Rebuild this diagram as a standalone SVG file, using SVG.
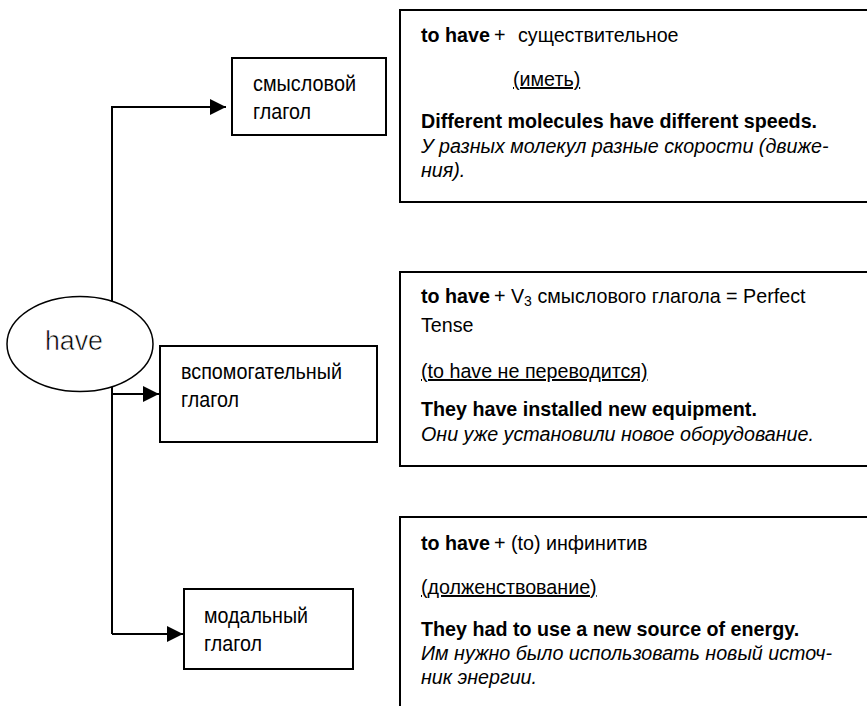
<svg xmlns="http://www.w3.org/2000/svg" width="867" height="706" viewBox="0 0 867 706">
<defs>
<style>
text{font-family:"Liberation Sans",Arial,sans-serif;fill:#000}
.t{font-size:19.7px}
.b{font-weight:bold}
.i{font-style:italic}
.u{text-decoration:underline}
.n{font-size:22px}
.box{fill:#fff;stroke:#000;stroke-width:2}
.line{fill:none;stroke:#000;stroke-width:2}
</style>
<marker id="ah" viewBox="0 0 16 16" refX="16" refY="8" markerWidth="16" markerHeight="16" markerUnits="userSpaceOnUse" orient="auto">
<path d="M0,0 L16,8 L0,16 Z" fill="#000"/>
</marker>
</defs>
<rect width="867" height="706" fill="#fff"/>
<g id="connectors">
<path class="line" d="M112,634 V107 H226" marker-end="url(#ah)"/>
<path class="line" d="M112,394 H159" marker-end="url(#ah)"/>
<path class="line" d="M112,634 H183" marker-end="url(#ah)"/>
</g>
<g id="have">
<ellipse cx="80" cy="344" rx="73" ry="47.5" fill="#fff" stroke="#000" stroke-width="1.5"/>
<text x="45" y="350" font-family="'Liberation Sans',sans-serif" font-size="27" textLength="58" lengthAdjust="spacingAndGlyphs" stroke="#fff" stroke-width="0.6">have</text>
</g>
<g id="smyslovoy">
<rect class="box" x="232" y="58" width="154" height="77"/>
<text class="n" x="253" y="91" textLength="103" lengthAdjust="spacingAndGlyphs">смысловой</text>
<text class="n" x="253" y="119" textLength="58" lengthAdjust="spacingAndGlyphs">глагол</text>
</g>
<g id="vspomogatelny">
<rect class="box" x="160" y="346" width="217" height="96"/>
<text class="n" x="181" y="379" textLength="161" lengthAdjust="spacingAndGlyphs">вспомогательный</text>
<text class="n" x="181" y="407" textLength="58" lengthAdjust="spacingAndGlyphs">глагол</text>
</g>
<g id="modalny">
<rect class="box" x="184" y="589" width="169" height="80"/>
<text class="n" x="204" y="623" textLength="104" lengthAdjust="spacingAndGlyphs">модальный</text>
<text class="n" x="204" y="651" textLength="58" lengthAdjust="spacingAndGlyphs">глагол</text>
</g>
<g id="box-meaning">
<rect class="box" x="400" y="10" width="500" height="192"/>
<text class="t" y="42"><tspan class="b" x="421">to have</tspan><tspan x="494">+</tspan><tspan x="518">существительное</tspan></text>
<text class="t u" x="513" y="86">(иметь)</text>
<text class="t b" x="421" y="128">Different molecules have different speeds.</text>
<text class="t i" x="421" y="153">У разных молекул разные скорости (движе-</text>
<text class="t i" x="421" y="177">ния).</text>
</g>
<g id="box-aux">
<rect class="box" x="400" y="272" width="500" height="194"/>
<text class="t" y="303"><tspan class="b" x="421">to have</tspan><tspan x="494">+ V</tspan><tspan font-size="14" dy="3">3</tspan><tspan dy="-3"> смыслового глагола = Perfect</tspan></text>
<text class="t" x="421" y="332">Tense</text>
<text class="t u" x="421" y="378">(to have не переводится)</text>
<text class="t b" x="421" y="416">They have installed new equipment.</text>
<text class="t i" x="421" y="441">Они уже установили новое оборудование.</text>
</g>
<g id="box-modal">
<rect class="box" x="400" y="517" width="500" height="300"/>
<text class="t" y="550"><tspan class="b" x="421">to have</tspan><tspan x="494">+ (to) инфинитив</tspan></text>
<text class="t u" x="421" y="594">(долженствование)</text>
<text class="t b" x="421" y="636">They had to use a new source of energy.</text>
<text class="t i" x="421" y="660">Им нужно было использовать новый источ-</text>
<text class="t i" x="421" y="684">ник энергии.</text>
</g>
</svg>
